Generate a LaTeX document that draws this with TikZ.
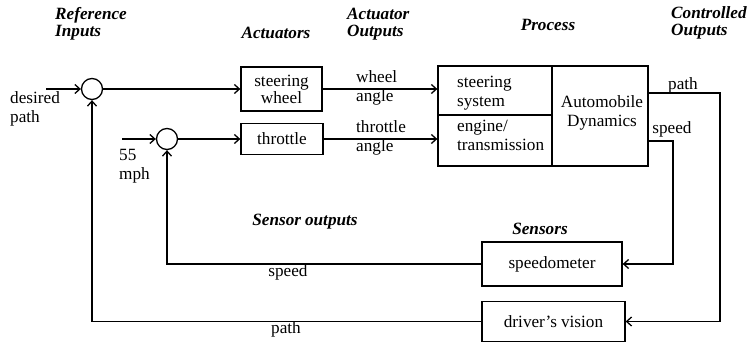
\documentclass[tikz,border=0pt]{standalone}
\usepackage{fontspec}
\setmainfont{Liberation Serif}
\usetikzlibrary{arrows.meta}
\tikzset{
  base/.style={font=\fontsize{17.2}{18.8}\selectfont, inner sep=0pt},
  blk/.style={base, draw, line width=1.3pt, rectangle, align=center},
  sum/.style={draw, line width=1.3pt, circle, minimum size=21pt, inner sep=0pt},
  lbl/.style={base, align=left},
  hdr/.style={base, font=\fontsize{17.2}{17.5}\selectfont\bfseries\itshape, align=left},
  arr/.style={line width=1.3pt, -{Straight Barb[length=5pt,width=9pt,line width=1.3pt]}},
  ln/.style={line width=1.3pt}
}
\begin{document}
\begin{tikzpicture}[x=1pt,y=-1pt]
\useasboundingbox (0,0) rectangle (754,342);
% summing junctions
\node[sum] (c1) at (92,89) {};
\node[sum] (c2) at (167,139) {};
% actuators
\node[blk, minimum width=81pt, minimum height=44pt] (sw) at (281.5,89) {steering\\[-2pt]wheel};
\node[blk, minimum width=82pt, minimum height=31pt] (th) at (282,139) {throttle};
% process
\node[draw, line width=1.3pt, minimum width=210pt, minimum height=100pt, inner sep=0pt] (proc) at (543,116) {};
\coordinate (pdt) at (552,66);
\coordinate (pdb) at (552,166);
\coordinate (phl) at (438,115);
\coordinate (phr) at (552,115);
\draw[ln] (pdt) -- (pdb);
\draw[ln] (phl) -- (phr);
\node[lbl, anchor=west] (ss) at (457,93) {steering\\system};
\node[lbl, anchor=west] (et) at (457,135.5) {engine/\\transmission};
\node[lbl, align=center] (ad) at (602,112.5) {Automobile\\Dynamics};
% sensors
\node[blk, minimum width=140pt, minimum height=44pt] (sp) at (552,264) {speedometer};
\node[blk, minimum width=143pt, minimum height=40pt] (dv) at (553.5,321.5) {driver's\hspace{4pt}vision};
% inputs
\coordinate (din) at (46,89);
\coordinate (in55) at (122,139);
\draw[arr] (din) -- (c1);
\draw[arr] (in55) -- (c2);
\draw[arr] (c1) -- (sw);
\draw[arr] (c2) -- (th);
\draw[arr] (sw.east) -- (sw.east -| proc.west);
\draw[arr] (th.east) -- (th.east -| proc.west);
% outputs
\coordinate (po) at (648,93);
\coordinate (pc) at (720,93);
\coordinate (so) at (648,141);
\coordinate (sc) at (673,141);
\draw[arr] (po) -- (pc) |- (dv.east);
\draw[arr] (so) -- (sc) |- (sp.east);
% feedback
\draw[arr] (sp.west) -| (c2.south);
\draw[arr] (dv.west) -| (c1.south);
% labels
\node[lbl, anchor=west] (ldp) at (10,109) {desired\\path};
\node[lbl, anchor=west] (l55) at (119,166.5) {55\\mph};
\node[lbl, anchor=west] (lwa) at (356,88) {wheel\\angle};
\node[lbl, anchor=west] (lta) at (356,138) {throttle\\angle};
\node[lbl] (lpo) at (683,85) {path};
\node[lbl] (lso) at (672,129) {speed};
\node[lbl] (lsf) at (288,272) {speed};
\node[lbl] (lpf) at (286,329) {path};
% headers
\node[hdr, anchor=west] (h1) at (55,24) {Reference\\Inputs};
\node[hdr] (h2) at (276,33) {Actuators};
\node[hdr, anchor=west] (h3) at (347,24) {Actuator\\Outputs};
\node[hdr] (h4) at (548,25) {Process};
\node[hdr, anchor=west] (h5) at (671,23) {Controlled\\Outputs};
\node[hdr] (h6) at (305,222) {Sensor\hspace{4pt}outputs};
\node[hdr] (h7) at (540,229) {Sensors};
\end{tikzpicture}
\end{document}
